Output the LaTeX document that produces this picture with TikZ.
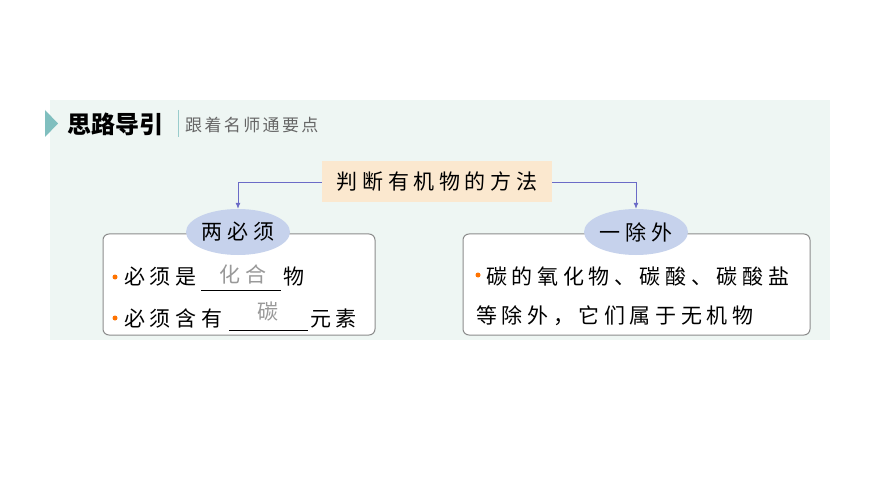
\documentclass[tikz,border=0pt]{standalone}
\usepackage{fontspec}
\newfontfamily\cjk[LetterSpace=22]{Noto Sans CJK SC}
\newfontfamily\cjks[LetterSpace=14]{Noto Sans CJK SC}
\newfontfamily\cjkb{Noto Sans CJK SC Black}
\definecolor{bg}{HTML}{EEF6F3}
\definecolor{el}{HTML}{C6D2EC}
\definecolor{tb}{HTML}{FBE8CF}
\begin{document}
\begin{tikzpicture}[x=1pt,y=-1pt,
  txt/.style={font=\cjk\fontsize{21}{24}\selectfont,anchor=west,inner sep=0},
  box/.style={draw=black!45,line width=1pt,rounded corners=6pt,fill=white},
  ell/.style={ellipse,fill=el,minimum width=104pt,minimum height=46pt,inner sep=0,font=\cjk\fontsize{21}{24}\selectfont},
  arr/.style={draw=blue!45!gray!80,line width=0.8pt,-{Latex[length=6pt,width=5pt]}},
  dot/.style={circle,fill=orange!90!red,inner sep=0,minimum size=5pt},
  ans/.style={font=\cjk\fontsize{21}{24}\selectfont,text=black!40,inner sep=0}]
\usetikzlibrary{shapes.geometric,arrows.meta}
\useasboundingbox (0,0) rectangle (870,489);
\fill[white] (0,0) rectangle (870,489);
\fill[bg] (50,100) rectangle (830,340);
\fill[teal!50] (45,110) -- (58,123.5) -- (45,137) -- cycle;
\node[anchor=west,inner sep=0,font=\cjkb\fontsize{24}{26}\selectfont] (t) at (67,124) {思路导引};
\draw[teal!40,line width=1pt] (178,110) -- (178,137);
\node[anchor=west,inner sep=0,text=black!60,font=\cjks\fontsize{17}{20}\selectfont] (s) at (185,125) {跟着名师通要点};
\node[fill=tb,minimum width=230pt,minimum height=41pt,inner sep=0,font=\cjk\fontsize{21}{24}\selectfont] (top) at (437,182) {判断有机物的方法};
\draw[box] (103,234) rectangle (375,335);
\draw[box] (463,234) rectangle (810,335);
\node[ell] (L) at (238,232) {两必须};
\node[ell] (R) at (636,232) {一除外};
\draw[arr] (top.west) -| (L.north);
\draw[arr] (top.east) -| (R.north);
\node[dot] (d1) at (115,277) {};
\node[dot] (d2) at (115,318) {};
\node[dot] (d3) at (478,275) {};
\node[txt] (a1) at (124,277) {必须是};
\draw[black,line width=0.8pt] (201,290) -- (281,290);
\node[ans] (h1) at (243,274) {化合};
\node[txt] (a2) at (283,277) {物};
\node[txt] (b1) at (124,318) {必须含有};
\draw[black,line width=0.8pt] (229,330) -- (308,330);
\node[ans] (h2) at (268,312) {碳};
\node[txt] (b2) at (310,318) {元素};
\node[txt] (c1) at (486,276) {碳的氧化物、碳酸、碳酸盐};
\node[txt] (c2) at (476,316) {等除外，它们属于无机物};
\end{tikzpicture}
\end{document}
